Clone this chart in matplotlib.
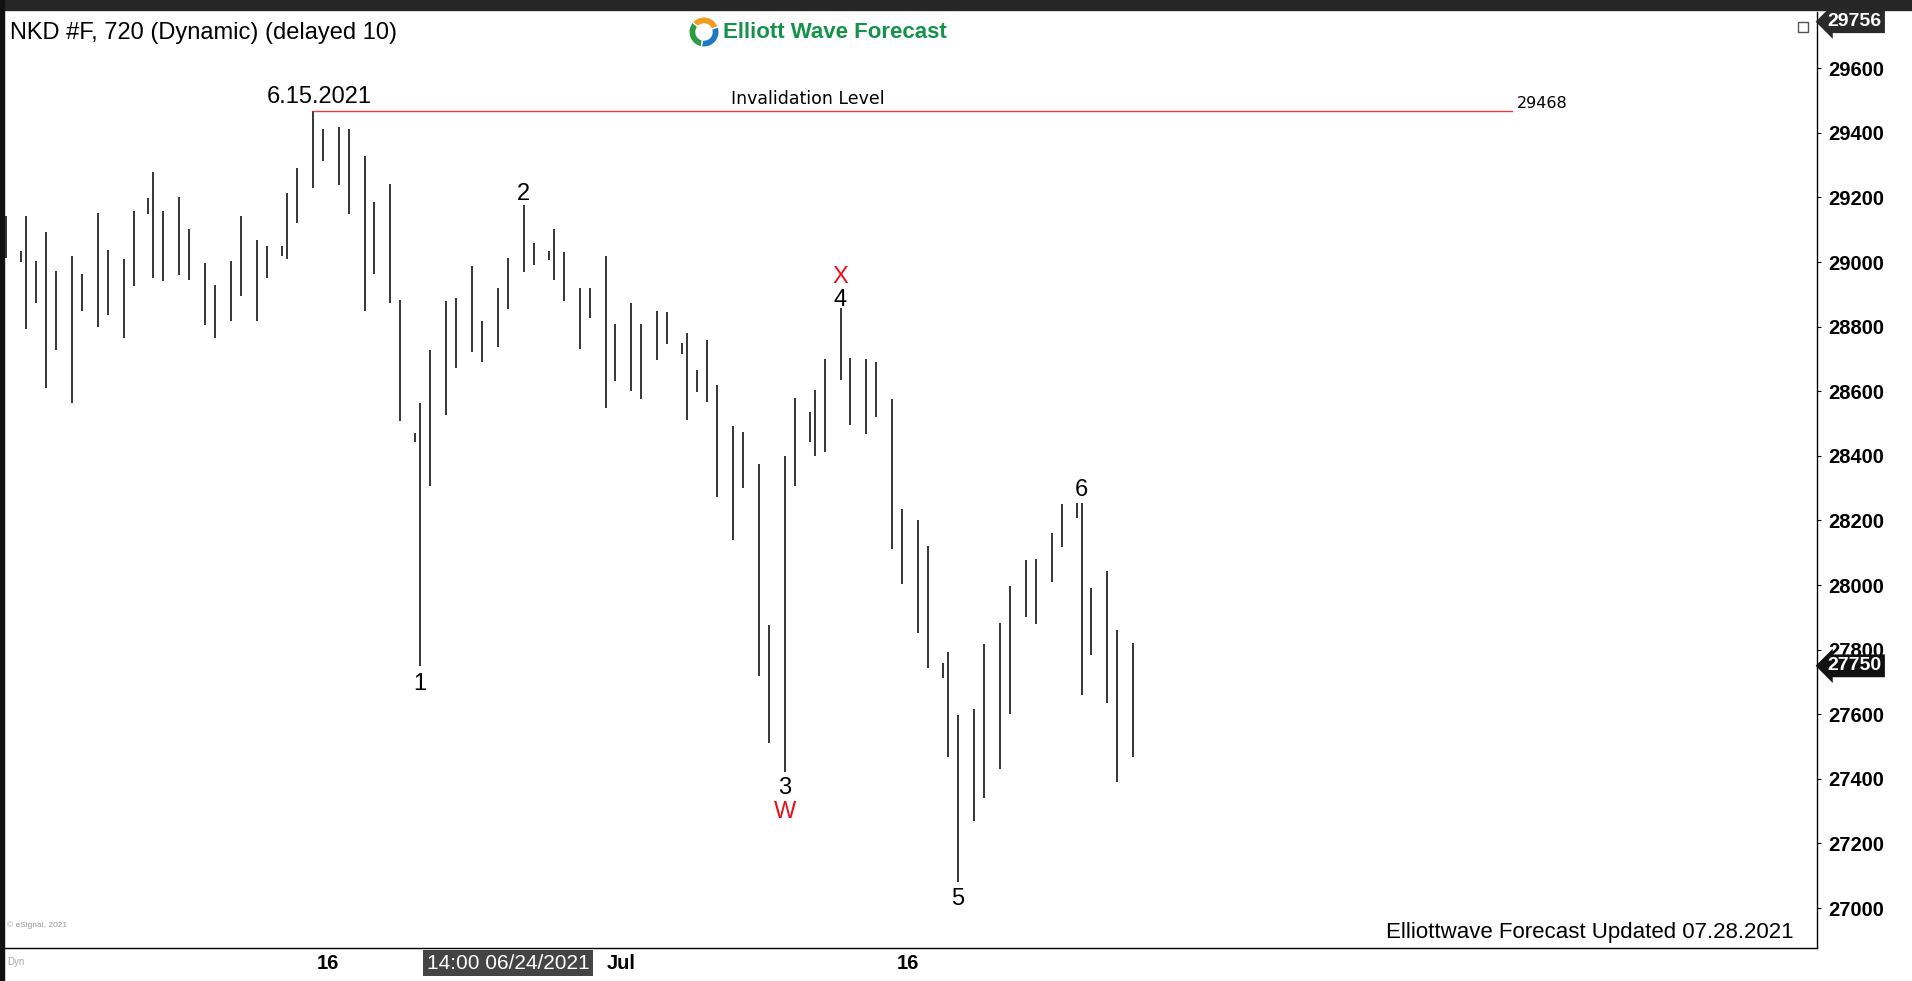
import matplotlib.pyplot as plt
import matplotlib.patches as mpatches
import matplotlib.transforms as mtransforms

plt.rcParams['font.family'] = ['Liberation Sans', 'DejaVu Sans']

# 720 min bars of NKD #F; session: s = sunday open, a / b = the two bars of a day
bar_date = ['05-28', '05-30', '05-31', '05-31', '06-01', '06-01', '06-02', '06-02',
            '06-03', '06-03', '06-04', '06-04', '06-06', '06-07', '06-07', '06-08',
            '06-08', '06-09', '06-09', '06-10', '06-10', '06-11', '06-11', '06-13',
            '06-14', '06-14', '06-15', '06-15', '06-16', '06-16', '06-17', '06-17',
            '06-18', '06-18', '06-20', '06-21', '06-21', '06-22', '06-22', '06-23',
            '06-23', '06-24', '06-24', '06-25', '06-25', '06-27', '06-28', '06-28',
            '06-29', '06-29', '06-30', '06-30', '07-01', '07-01', '07-02', '07-02',
            '07-04', '07-05', '07-05', '07-06', '07-06', '07-07', '07-07', '07-08',
            '07-08', '07-09', '07-09', '07-11', '07-12', '07-12', '07-13', '07-13',
            '07-14', '07-14', '07-15', '07-15', '07-16', '07-16', '07-18', '07-19',
            '07-19', '07-20', '07-20', '07-21', '07-21', '07-22', '07-22', '07-23',
            '07-23', '07-25', '07-26', '07-26', '07-27', '07-27', '07-28']
bar_sess = ['b', 's', 'a', 'b', 'a', 'b', 'a', 'b', 'a', 'b', 'a', 'b', 's', 'a', 'b', 'a',
            'b', 'a', 'b', 'a', 'b', 'a', 'b', 's', 'a', 'b', 'a', 'b', 'a', 'b', 'a', 'b',
            'a', 'b', 's', 'a', 'b', 'a', 'b', 'a', 'b', 'a', 'b', 'a', 'b', 's', 'a', 'b',
            'a', 'b', 'a', 'b', 'a', 'b', 'a', 'b', 's', 'a', 'b', 'a', 'b', 'a', 'b', 'a',
            'b', 'a', 'b', 's', 'a', 'b', 'a', 'b', 'a', 'b', 'a', 'b', 'a', 'b', 's', 'a',
            'b', 'a', 'b', 'a', 'b', 'a', 'b', 'a', 'b', 's', 'a', 'b', 'a', 'b', 'a']
bar_high = [29141, 29034, 29143, 29003, 29092, 28972, 29019, 28963,
            29151, 29037, 29009, 29158, 29197, 29279, 29158, 29202,
            29103, 28998, 28928, 29003, 29143, 29068, 29050, 29050,
            29213, 29291, 29468, 29412, 29418, 29412, 29328, 29187,
            29241, 28883, 28472, 28565, 28728, 28879, 28888, 28988,
            28818, 28919, 29013, 29176, 29058, 29034, 29101, 29032,
            28921, 28919, 29019, 28808, 28872, 28808, 28849, 28846,
            28748, 28780, 28666, 28759, 28620, 28491, 28475, 28375,
            27876, 28400, 28578, 28535, 28604, 28700, 28857, 28702,
            28700, 28692, 28576, 28236, 28202, 28121, 27758, 27794,
            27598, 27615, 27818, 27882, 27997, 28078, 28080, 28162,
            28251, 28253, 28255, 27992, 28042, 27861, 27822]
bar_low = [29012, 29001, 28792, 28872, 28610, 28728, 28565, 28847,
           28800, 28836, 28764, 28927, 29149, 28952, 28942, 28960,
           28945, 28805, 28764, 28816, 28896, 28816, 28952, 29019,
           29009, 29122, 29230, 29314, 29237, 29148, 28847, 28962,
           28872, 28509, 28444, 27749, 28308, 28527, 28673, 28723,
           28692, 28738, 28855, 28970, 28991, 29006, 28943, 28878,
           28731, 28828, 28549, 28633, 28601, 28576, 28697, 28746,
           28715, 28511, 28599, 28568, 28274, 28138, 28300, 27717,
           27512, 27420, 28308, 28444, 28398, 28413, 28635, 28494,
           28468, 28521, 28111, 28003, 27851, 27742, 27711, 27467,
           27082, 27271, 27342, 27431, 27601, 27900, 27880, 28011,
           28119, 28209, 27660, 27784, 27636, 27391, 27467]
holidays = ['05-31', '07-05']

# x ticks: (label, date)
date_ticks = [('16', '06-16'), ('Jul', '07-01'), ('16', '07-16')]
cursor_bar = ('06-24', 'b', '14:00 06/24/2021')

# wave labels: text, date, session, at high/low, colour, gap in pt
waves = [('6.15.2021', '06-15', 'a', 'high', 'black', 6),
         ('1', '06-21', 'a', 'low', 'black', 5),
         ('2', '06-25', 'a', 'high', 'black', 3.5),
         ('3', '07-09', 'a', 'low', 'black', 3),
         ('W', '07-09', 'a', 'low', '#e8111b', 20.5),
         ('4', '07-13', 'a', 'high', 'black', 1.8),
         ('X', '07-13', 'a', 'high', '#e8111b', 18.4),
         ('5', '07-19', 'b', 'low', 'black', 5),
         ('6', '07-26', 'a', 'high', 'black', 5)]

invalidation = 29468
top_price = 29756
last_price = 27750

# time position of each bar (trading-day units)
bar_x = []
x = 0.0
for i, (d, s) in enumerate(zip(bar_date, bar_sess)):
    if i == 0:
        x = 0.0
    elif s == 'b':
        x += 0.385
    elif s == 's':
        x += 0.577
    elif bar_sess[i - 1] == 's':
        x += 0.19
    elif bar_date[i - 1] in holidays:
        x += 0.385
    else:
        x += 0.615
    bar_x.append(x)


def find(d, s):
    for i in range(len(bar_date)):
        if bar_date[i] == d and bar_sess[i] == s:
            return i
    return 0


W, H = 1912, 981
fig = plt.figure(figsize=(W / 100, H / 100), dpi=100)
fig.patch.set_facecolor('white')
ax = fig.add_axes([5 / W, 1 - 947.5 / H, 1812 / W, 935.5 / H])

ax.vlines(bar_x, bar_low, bar_high, color='black', lw=1.1)

ax.set_xlim(-0.04, 69.92)
ax.set_ylim(26878, 29774)

for sp in ['top', 'left']:
    ax.spines[sp].set_visible(False)
ax.spines['right'].set_linewidth(1.0)
ax.spines['bottom'].set_linewidth(1.0)

ax.yaxis.tick_right()
ax.set_yticks(range(27000, 29601, 200))
ax.tick_params(axis='y', length=3, pad=5, labelsize=14.5)
for t in ax.get_yticklabels():
    t.set_fontweight('bold')

xt = [bar_x[find(d, 'a')] - 0.4 for _, d in date_ticks]
ax.set_xticks(xt, [lbl for lbl, _ in date_ticks])
ax.tick_params(axis='x', length=0, pad=5, labelsize=14.5)
for t in ax.get_xticklabels():
    t.set_fontweight('bold')

# invalidation level
i15 = find('06-15', 'a')
x0, x1 = ax.get_xlim()
ax.axhline(invalidation, xmin=(bar_x[i15] - x0) / (x1 - x0), xmax=0.8317,
           color='#e8393f', lw=1.0)
ax.annotate('Invalidation Level', xy=(0.443, invalidation),
            xycoords=('axes fraction', 'data'), xytext=(0, 5),
            textcoords='offset points', ha='center', va='baseline', fontsize=12.5,
            family='DejaVu Sans')
ax.annotate(str(invalidation), xy=(0.8345, invalidation),
            xycoords=('axes fraction', 'data'), xytext=(0, 2),
            textcoords='offset points', ha='left', va='baseline', fontsize=11.5,
            family='DejaVu Sans')

# wave labels
for txt, d, s, side, col, gap in waves:
    i = find(d, s)
    if side == 'high':
        y, dy = bar_high[i], gap
    else:
        y, dy = bar_low[i], -(gap + 12.2)
    dx = 5 if len(txt) > 2 else 0
    ax.annotate(txt, xy=(bar_x[i], y), xytext=(dx, dy), textcoords='offset points',
                ha='center', va='baseline', fontsize=17, color=col)

# price tags on the right axis (drawn over the tick labels, as on the platform)
blend = mtransforms.blended_transform_factory(ax.transAxes, ax.transData)
for p, lbl, fc in [(top_price - 12, top_price, '#2a2a2a'), (last_price, last_price, '#111111')]:
    ax.text(1.006, p, str(lbl), transform=blend, ha='left', va='center', color='white',
            fontsize=14, fontweight='bold', zorder=10,
            bbox=dict(boxstyle='larrow,pad=0.15', fc=fc, ec='none'))

# cursor date box under x axis
ic = find(cursor_bar[0], cursor_bar[1])
blend_x = mtransforms.blended_transform_factory(ax.transData, ax.transAxes)
ax.text(bar_x[ic], -0.0166, cursor_bar[2], transform=blend_x, ha='center', va='center',
        color='white', fontsize=15,
        bbox=dict(boxstyle='square,pad=0.18', fc='#444444', ec='none'))

ax.text(0.987, 0.0155, 'Elliottwave Forecast Updated 07.28.2021', transform=ax.transAxes,
        ha='right', va='center', fontsize=16)
ax.text(0.001, 0.024, '\u00a9 eSignal, 2021', transform=ax.transAxes, ha='left',
        va='center', fontsize=6, color='#999999')

# frame: header bar, left border, small window icon
fig.patches.append(mpatches.Rectangle((0, 1 - 10 / H), 1, 10 / H, transform=fig.transFigure,
                                      color='#262626', zorder=5))
fig.patches.append(mpatches.Rectangle((0, 0), 4 / W, 1, transform=fig.transFigure,
                                      color='#111111', zorder=5))
fig.patches.append(mpatches.Rectangle((1798 / W, 1 - 32 / H), 10 / W, 10 / H,
                                      transform=fig.transFigure, fc='white', ec='#555555',
                                      lw=1, zorder=5))
fig.text(7 / W, 1 - 962 / H, 'Dyn', fontsize=7, color='#aaaaaa', va='center')

fig.text(10 / W, 1 - 33 / H, 'NKD #F, 720 (Dynamic) (delayed 10)', fontsize=17,
         ha='left', va='center')

# logo
fig.text(0.4368, 1 - 32 / H, 'Elliott Wave Forecast', fontsize=16, fontweight='bold',
         color='#15924a', ha='center', va='center')
lax = fig.add_axes([688 / W, 1 - 48 / H, 32 / W, 32 / H])
lax.set_xlim(-1, 1)
lax.set_ylim(-1, 1)
lax.set_aspect('equal')
lax.axis('off')
for th1, th2, c in [(20, 140, '#f29b1d'), (140, 260, '#2f9b47'), (260, 380, '#1f77c4')]:
    lax.add_patch(mpatches.Wedge((0, 0), 0.95, th1, th2, width=0.45, fc=c, ec='white', lw=1))

fig.savefig('out.png', dpi=100, facecolor='white')
